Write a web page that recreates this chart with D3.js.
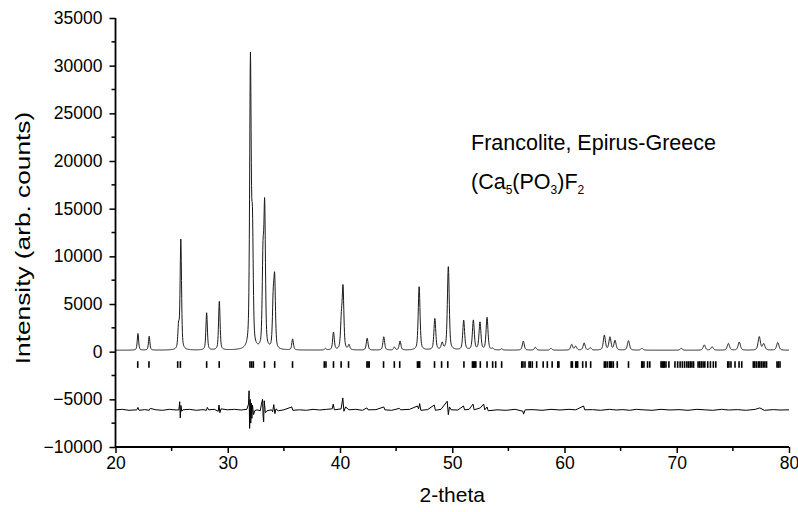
<!DOCTYPE html>
<html>
<head>
<meta charset="utf-8">
<script src="https://cdn.jsdelivr.net/npm/d3@7"></script>
<style>
  body { margin: 0; background: #fff; }
  text { font-family: "Liberation Sans", Arial, sans-serif; fill: #000; }
</style>
</head>
<body>
<svg id="chart" width="798" height="512"></svg>
<script>
// Refined diffraction peaks: 2-theta position and peak intensity (counts)
const peakPos = [22.0, 23.0, 25.62, 25.82, 28.12, 29.25, 32.02, 32.2, 33.14, 33.29,
  34.05, 34.18, 35.78, 38.7, 39.42, 40.12, 40.27, 40.8, 42.42, 43.9, 44.85, 45.35,
  47.05, 48.45, 49.1, 49.65, 51.02, 51.88, 52.47, 53.1, 53.6, 54.4, 56.33, 57.4,
  58.8, 60.64, 61.0, 61.75, 62.3, 63.55, 64.05, 64.5, 65.7, 66.9, 70.4, 72.45,
  73.15, 74.6, 75.57, 77.35, 77.75, 79.0];
const peakHeight = [1750, 1450, 2300, 11500, 3900, 5150, 30000, 12000, 9000, 14300,
  4700, 6900, 1150, 150, 1850, 2800, 6300, 500, 1250, 1400, 300, 950,
  6700, 3300, 700, 8800, 3100, 3100, 2900, 3400, 150, 120, 950, 300,
  200, 600, 400, 750, 250, 1550, 1350, 1000, 1000, 200, 200, 550,
  350, 700, 850, 1400, 650, 800];
const background = 150;

// Allowed reflection positions (2-theta)
const reflections = [21.98, 22.98, 25.54, 25.78, 28.12, 29.24, 31.98, 32.13, 32.28,
  33.27, 34.18, 35.77, 38.6, 38.75, 39.42, 40.1, 40.76, 42.4, 42.5, 42.6, 43.88,
  44.84, 45.32, 46.9, 47.0, 47.1, 48.42, 49.05, 49.6, 51.04, 51.8, 51.9, 52.0, 52.1,
  52.5, 53.1, 53.6, 53.87, 54.4, 56.19, 56.3, 56.48, 56.84, 56.95, 57.13, 57.52,
  58.1, 58.47, 58.9, 59.4, 59.5, 60.6, 60.7, 61.0, 61.1, 61.17, 61.62, 61.92, 62.33,
  63.55, 63.65, 63.8, 64.0, 64.1, 64.2, 64.35, 64.7, 65.7, 66.88, 66.95, 67.08,
  67.4, 67.6, 68.6, 68.7, 68.8, 68.9, 69.04, 69.3, 69.84, 70.08, 70.3, 70.5, 70.7,
  70.9, 71.05, 71.2, 71.35, 71.5, 71.9, 72.05, 72.2, 72.35, 72.5, 72.76, 73.0, 73.26,
  73.48, 74.54, 74.65, 74.83, 75.19, 75.55, 75.79, 76.82, 76.95, 77.1, 77.27, 77.4,
  77.55, 77.7, 77.85, 78.0, 78.93, 79.05, 79.2];

// Difference curve (observed - calculated, offset), as 2-theta / counts pairs
const diffAngle = [20.0, 20.6, 21.2, 21.9, 22.0, 22.1, 22.6, 23.0, 23.1, 23.6, 24.2, 24.8,
  25.4, 25.65, 25.72, 25.77, 25.83, 25.9, 26.0, 26.6, 27.2, 27.8, 28.1, 28.18, 28.3,
  28.8, 29.15, 29.22, 29.3, 29.4, 30.0, 30.6, 31.2, 31.7, 31.85, 31.9, 31.95, 32.0,
  32.05, 32.1, 32.15, 32.2, 32.3, 32.4, 32.6, 32.9, 33.0, 33.1, 33.15, 33.2, 33.25,
  33.35, 33.5, 33.9, 34.0, 34.1, 34.2, 34.3, 34.5, 35.0, 35.7, 35.8, 36.4, 37.0, 37.6,
  38.2, 38.8, 39.3, 39.4, 39.5, 40.1, 40.25, 40.35, 40.5, 40.8, 41.4, 42.0, 42.4, 42.5,
  43.2, 43.9, 44.0, 44.6, 45.3, 45.4, 46.2, 46.9, 47.0, 47.1, 47.2, 47.8, 48.4, 48.5,
  49.0, 49.55, 49.65, 49.75, 49.9, 50.5, 51.0, 51.1, 51.5, 51.85, 51.95, 52.5, 52.8,
  52.9, 53.1, 53.2, 54.0, 54.8, 55.6, 56.3, 56.35, 56.5, 57.2, 58.0, 58.8, 59.6, 60.4,
  61.0, 61.7, 61.8, 62.5, 63.2, 64.0, 64.6, 65.2, 65.8, 66.4, 67.0, 67.8, 68.6, 69.4,
  70.2, 71.0, 71.8, 72.5, 73.2, 74.0, 74.6, 75.4, 76.2, 77.0, 77.4, 77.8, 78.6, 79.2, 80.0];
const diffValue = [-6100, -6050, -6150, -6100, -5850, -6150, -6080, -6150, -5950, -6100, -6150, -6050,
  -6120, -6100, -5250, -6950, -5650, -6250, -6100, -6050, -6150, -6080, -6150, -5850, -6100,
  -6050, -6250, -5600, -6400, -6000, -6100, -6050, -6120, -6050, -5500, -4100, -8050, -5000,
  -7500, -5400, -7000, -5600, -6600, -6200, -6100, -6200, -5500, -5000, -6800, -7350, -5150,
  -6400, -6200, -6100, -6300, -5550, -6500, -6000, -6200, -6100, -5800, -6150, -6100, -6150, -6050,
  -6120, -6050, -6000, -5500, -6100, -6000, -4850, -6250, -5800, -6100, -6050, -6150, -5900, -6100,
  -6080, -5800, -6100, -6150, -5950, -6100, -6050, -5700, -6000, -5450, -6150, -6080, -5600, -6150,
  -6050, -5200, -6600, -5800, -6100, -6120, -5700, -6100, -6050, -5500, -6100, -5900, -5500,
  -6100, -5800, -6200, -6100, -6150, -6050, -6250, -6550, -6100, -6080, -6150, -6050, -6120, -6050,
  -6100, -5700, -6100, -6080, -6150, -6050, -6120, -6080, -6150, -6050, -6100, -6150, -6050, -6120,
  -6080, -6150, -6050, -6100, -6150, -6050, -6120, -6080, -6150, -6050, -5900, -6150, -6080, -6120, -6100];

const xTicks = [20, 30, 40, 50, 60, 70, 80];
const xMinorTicks = [25, 35, 45, 55, 65, 75];
const yTicks = [-10000, -5000, 0, 5000, 10000, 15000, 20000, 25000, 30000, 35000];
const yMinorTicks = [-7500, -2500, 2500, 7500, 12500, 17500, 22500, 27500, 32500];

const svg = d3.select("#chart");
const x = d3.scaleLinear().domain([20, 80]).range([115.5, 789]);
const y = d3.scaleLinear().domain([-10000, 35000]).range([447, 18]);

// Pseudo-Voigt profile summed over all peaks
function profile(t) {
  let s = background;
  for (let i = 0; i < peakPos.length; i++) {
    const w = 0.14 + 0.0018 * (peakPos[i] - 20);
    const u = (t - peakPos[i]) / w;
    const L = 1 / (1 + 4 * u * u);
    const G = Math.exp(-4 * Math.LN2 * u * u);
    s += peakHeight[i] * (0.5 * L + 0.5 * G);
  }
  return s;
}
const angles = d3.range(20, 80.0001, 0.02);
const calc = angles.map(t => [t, profile(t)]);

const line = d3.line().x(d => x(d[0])).y(d => y(d[1]));

svg.append("path")
  .datum(calc)
  .attr("d", line)
  .attr("fill", "none")
  .attr("stroke", "#1a1a1a")
  .attr("stroke-width", 1);

// Reflection markers
svg.append("g").selectAll("line")
  .data(reflections)
  .join("line")
  .attr("x1", d => x(d)).attr("x2", d => x(d))
  .attr("y1", y(-1000)).attr("y2", y(-1700))
  .attr("stroke", "#000")
  .attr("stroke-width", 1.6);

// Difference curve
svg.append("path")
  .datum(diffAngle.map((a, i) => [a, diffValue[i]]))
  .attr("d", line)
  .attr("fill", "none")
  .attr("stroke", "#000")
  .attr("stroke-width", 1);

// Axes
const xAxis = d3.axisBottom(x).tickValues(xTicks).tickSize(6).tickPadding(4).tickFormat(d3.format("d"));
const yAxis = d3.axisLeft(y).tickValues(yTicks).tickSize(6).tickPadding(7).tickFormat(d3.format("d"));

const gx = svg.append("g").attr("transform", `translate(0,${y(-10000)})`).call(xAxis);
const gy = svg.append("g").attr("transform", `translate(${x(20)},0)`).call(yAxis);

gx.append("g").selectAll("line").data(xMinorTicks).join("line")
  .attr("x1", d => x(d)).attr("x2", d => x(d)).attr("y1", 0).attr("y2", 4)
  .attr("stroke", "#000").attr("stroke-width", 1.5);
gy.append("g").selectAll("line").data(yMinorTicks).join("line")
  .attr("y1", d => y(d)).attr("y2", d => y(d)).attr("x1", 0).attr("x2", -4)
  .attr("stroke", "#000").attr("stroke-width", 1.5);

[gx, gy].forEach(g => {
  g.select(".domain").attr("stroke", "#000").attr("stroke-width", 1.8);
  g.selectAll(".tick line").attr("stroke", "#000").attr("stroke-width", 1.5);
  g.selectAll("text").style("font-family", '"Liberation Sans", Arial, sans-serif')
    .style("font-size", "17.5px").attr("fill", "#000");
});
gx.select(".domain").attr("d", `M${x(20)},0H${x(80)}`);
gy.select(".domain").attr("d", `M0,${y(-10000)}V${y(35000)}`);

// Axis titles
svg.append("text")
  .attr("x", (x(20) + x(80)) / 2)
  .attr("y", 502)
  .attr("text-anchor", "middle")
  .style("font-size", "21px")
  .text("2-theta");

svg.append("text")
  .attr("transform", `translate(30,238) rotate(-90) scale(1.25,1)`)
  .attr("text-anchor", "middle")
  .style("font-size", "21px")
  .text("Intensity (arb. counts)");

// Sample annotation
const note = svg.append("g").attr("transform", "translate(471,0)");
note.append("text").attr("x", 0).attr("y", 150).style("font-size", "21.5px")
  .text("Francolite, Epirus-Greece");
const formula = note.append("text").attr("x", 0).attr("y", 189).style("font-size", "21.5px");
formula.append("tspan").text("(Ca");
formula.append("tspan").attr("dy", 5).style("font-size", "12px").text("5");
formula.append("tspan").attr("dy", -5).text("(PO");
formula.append("tspan").attr("dy", 5).style("font-size", "12px").text("3");
formula.append("tspan").attr("dy", -5).text(")F");
formula.append("tspan").attr("dy", 5).style("font-size", "12px").text("2");
</script>
</body>
</html>
